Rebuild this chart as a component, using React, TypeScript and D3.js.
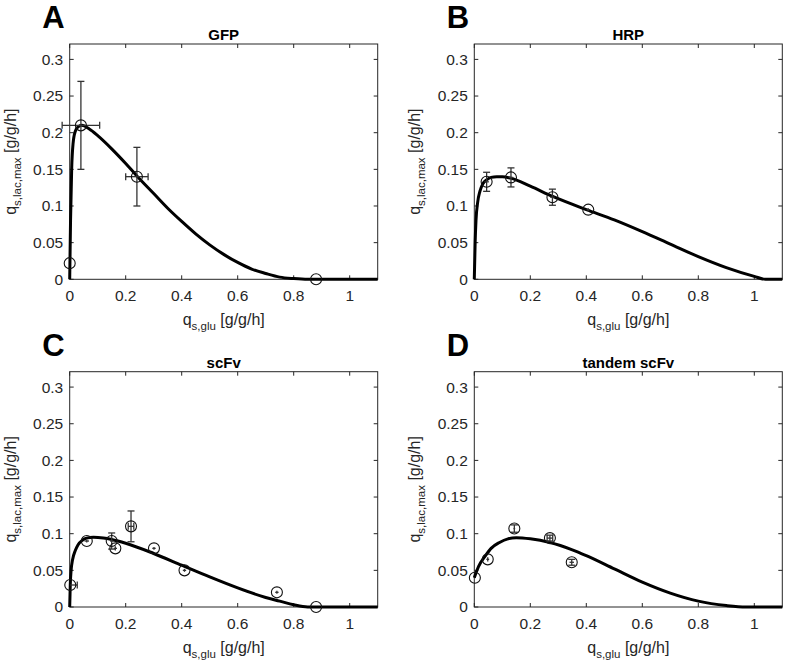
import React, { useEffect, useRef } from "react";
import * as d3 from "d3";

// axis ticks shared by all four panels
const xTicks = [0, 0.2, 0.4, 0.6, 0.8, 1];
const yTicks = [0, 0.05, 0.1, 0.15, 0.2, 0.25, 0.3];

// A: GFP
const gfpX = [0, 0.04, 0.24, 0.88];
const gfpY = [0.022, 0.21, 0.14, 0];
const gfpXErr = [0, 0.067, 0.04, 0];
const gfpYErr = [0, 0.06, 0.04, 0];
const gfpFitX = [0, 0.003, 0.007, 0.012, 0.02, 0.03, 0.043, 0.07, 0.1, 0.15, 0.2, 0.24, 0.3, 0.35, 0.4, 0.45, 0.5, 0.55, 0.6, 0.65, 0.7, 0.75, 0.8, 0.85, 0.9, 1.0, 1.1];
const gfpFitY = [0, 0.08, 0.15, 0.185, 0.202, 0.208, 0.21, 0.205, 0.196, 0.178, 0.158, 0.141, 0.117, 0.097, 0.079, 0.062, 0.047, 0.034, 0.023, 0.014, 0.008, 0.003, 0.001, 0, 0, 0, 0];

// B: HRP
const hrpX = [0.044, 0.131, 0.279, 0.407];
const hrpY = [0.133, 0.139, 0.112, 0.095];
const hrpXErr = [0.008, 0.008, 0.008, 0.006];
const hrpYErr = [0.013, 0.013, 0.011, 0.002];
const hrpFitX = [0, 0.003, 0.006, 0.012, 0.02, 0.03, 0.045, 0.06, 0.08, 0.1, 0.13, 0.2, 0.28, 0.4, 0.5, 0.6, 0.7, 0.8, 0.9, 1.0, 1.04, 1.1];
const hrpFitY = [0, 0.05, 0.08, 0.105, 0.12, 0.13, 0.136, 0.139, 0.14, 0.14, 0.138, 0.127, 0.113, 0.095, 0.081, 0.065, 0.048, 0.031, 0.016, 0.004, 0, 0];

// C: scFv
const scfvX = [0.002, 0.061, 0.15, 0.163, 0.219, 0.301, 0.41, 0.74, 0.88];
const scfvY = [0.03, 0.09, 0.09, 0.08, 0.11, 0.08, 0.05, 0.02, 0];
const scfvXErr = [0.025, 0.008, 0.006, 0.006, 0.01, 0.006, 0.006, 0.006, 0];
const scfvYErr = [0, 0.002, 0.011, 0.003, 0.021, 0.002, 0.002, 0.002, 0];
const scfvFitX = [0, 0.002, 0.005, 0.01, 0.02, 0.03, 0.045, 0.06, 0.085, 0.12, 0.15, 0.2, 0.3, 0.4, 0.5, 0.6, 0.7, 0.75, 0.8, 0.85, 1.1];
const scfvFitY = [0, 0.03, 0.05, 0.064, 0.077, 0.085, 0.091, 0.094, 0.095, 0.094, 0.092, 0.087, 0.073, 0.057, 0.041, 0.026, 0.013, 0.008, 0.003, 0, 0];

// D: tandem scFv
const tandX = [0.002, 0.048, 0.143, 0.27, 0.348];
const tandY = [0.04, 0.065, 0.107, 0.094, 0.061];
const tandXErr = [0, 0.005, 0.003, 0.01, 0.008];
const tandYErr = [0, 0.003, 0.005, 0.004, 0.004];
const tandFitX = [0, 0.015, 0.04, 0.06, 0.09, 0.12, 0.15, 0.2, 0.27, 0.35, 0.4, 0.5, 0.6, 0.7, 0.8, 0.9, 0.97, 1.1];
const tandFitY = [0.04, 0.055, 0.07, 0.08, 0.088, 0.093, 0.0945, 0.093, 0.088, 0.078, 0.07, 0.052, 0.034, 0.019, 0.008, 0.002, 0, 0];

const panels = [
  { letter: "A", title: "GFP", left: 69.7, top: 44, x: gfpX, y: gfpY, xe: gfpXErr, ye: gfpYErr, fx: gfpFitX, fy: gfpFitY },
  { letter: "B", title: "HRP", left: 474.3, top: 44, x: hrpX, y: hrpY, xe: hrpXErr, ye: hrpYErr, fx: hrpFitX, fy: hrpFitY },
  { letter: "C", title: "scFv", left: 69.7, top: 371.7, x: scfvX, y: scfvY, xe: scfvXErr, ye: scfvYErr, fx: scfvFitX, fy: scfvFitY },
  { letter: "D", title: "tandem scFv", left: 474.3, top: 371.7, x: tandX, y: tandY, xe: tandXErr, ye: tandYErr, fx: tandFitX, fy: tandFitY },
];

const W = 308;
const H = 235.3;
const FONT = "'Liberation Sans', Arial, Helvetica, sans-serif";
const AX = "#262626";

const App = () => {
  const svgRef = useRef<SVGSVGElement>(null);

  useEffect(() => {
    const svg = d3.select(svgRef.current);
    svg.selectAll("*").remove();

    const x = d3.scaleLinear().domain([0, 1.1]).range([0, W]);
    const y = d3.scaleLinear().domain([0, 0.321]).range([H, 0]);

    panels.forEach(p => {
      const g = svg.append("g").attr("transform", `translate(${p.left},${p.top})`);

      // panel letter
      g.append("text")
        .attr("x", -27.5).attr("y", -16)
        .style("font-family", FONT).style("font-weight", "bold").style("font-size", "31px")
        .attr("fill", "#000")
        .text(p.letter);

      // title
      g.append("text")
        .attr("x", W / 2).attr("y", -4)
        .attr("text-anchor", "middle")
        .style("font-family", FONT).style("font-weight", "bold").style("font-size", "15px")
        .attr("fill", "#000")
        .text(p.title);

      // box
      g.append("rect")
        .attr("width", W).attr("height", H)
        .attr("fill", "#fff").attr("stroke", AX).attr("stroke-width", 1);

      // ticks, inside on all four sides
      const tl = 4;
      xTicks.forEach(t => {
        g.append("line").attr("x1", x(t)).attr("x2", x(t)).attr("y1", H).attr("y2", H - tl).attr("stroke", AX);
        g.append("line").attr("x1", x(t)).attr("x2", x(t)).attr("y1", 0).attr("y2", tl).attr("stroke", AX);
        g.append("text")
          .attr("x", x(t)).attr("y", H + 22)
          .attr("text-anchor", "middle")
          .style("font-family", FONT).style("font-size", "15.5px")
          .attr("fill", AX)
          .text(String(t));
      });
      yTicks.forEach(t => {
        g.append("line").attr("x1", 0).attr("x2", tl).attr("y1", y(t)).attr("y2", y(t)).attr("stroke", AX);
        g.append("line").attr("x1", W).attr("x2", W - tl).attr("y1", y(t)).attr("y2", y(t)).attr("stroke", AX);
        g.append("text")
          .attr("x", -6.5).attr("y", y(t))
          .attr("dy", "0.35em")
          .attr("text-anchor", "end")
          .style("font-family", FONT).style("font-size", "15.5px")
          .attr("fill", AX)
          .text(String(t));
      });

      // x label
      const xl = g.append("text")
        .attr("x", W / 2).attr("y", H + 46)
        .attr("text-anchor", "middle")
        .style("font-family", FONT).style("font-size", "16px")
        .attr("fill", AX);
      xl.append("tspan").text("q");
      xl.append("tspan").attr("dy", 5).style("font-size", "11.5px").text("s,glu");
      xl.append("tspan").attr("dy", -5).text(" [g/g/h]");

      // y label
      const yl = g.append("text")
        .attr("transform", `translate(-54,${H / 2}) rotate(-90)`)
        .attr("text-anchor", "middle")
        .style("font-family", FONT).style("font-size", "16px")
        .attr("fill", AX);
      yl.append("tspan").text("q");
      yl.append("tspan").attr("dy", 5).style("font-size", "11.5px").text("s,lac,max");
      yl.append("tspan").attr("dy", -5).text(" [g/g/h]");

      // model curve
      const fit = p.fx.map((v, i) => [v, p.fy[i]] as [number, number]);
      const line = d3.line<[number, number]>()
        .x(d => x(d[0]))
        .y(d => y(d[1]))
        .curve(d3.curveMonotoneX);
      g.append("path")
        .datum(fit)
        .attr("d", line)
        .attr("fill", "none")
        .attr("stroke", "#000")
        .attr("stroke-width", 3)
        .attr("stroke-linejoin", "round");

      // error bars
      const cap = 3.5;
      const eb = g.append("g").attr("stroke", "#333").attr("stroke-width", 1.3).attr("fill", "none");
      p.x.forEach((xv, i) => {
        const cx = x(xv), cy = y(p.y[i]);
        const ye = p.ye[i], xe = p.xe[i];
        if (ye > 0) {
          const y1 = y(p.y[i] + ye), y2 = y(p.y[i] - ye);
          eb.append("line").attr("x1", cx).attr("x2", cx).attr("y1", y1).attr("y2", y2);
          if (y2 - y1 > 5) {
            eb.append("line").attr("x1", cx - cap).attr("x2", cx + cap).attr("y1", y1).attr("y2", y1);
            eb.append("line").attr("x1", cx - cap).attr("x2", cx + cap).attr("y1", y2).attr("y2", y2);
          }
        }
        if (xe > 0) {
          // a bar on a point sitting on the y axis is hidden behind it on the left
          const x1 = xv < 0.01 ? x(xv) : x(xv - xe), x2 = x(xv + xe);
          eb.append("line").attr("x1", x1).attr("x2", x2).attr("y1", cy).attr("y2", cy);
          if (x2 - x1 > 5) {
            if (xv >= 0.01) eb.append("line").attr("x1", x1).attr("x2", x1).attr("y1", cy - cap).attr("y2", cy + cap);
            eb.append("line").attr("x1", x2).attr("x2", x2).attr("y1", cy - cap).attr("y2", cy + cap);
          }
        }
      });

      // data markers
      g.selectAll(".pt")
        .data(p.x)
        .enter()
        .append("circle")
        .attr("class", "pt")
        .attr("cx", d => x(d))
        .attr("cy", (d, i) => y(p.y[i]))
        .attr("r", 5.5)
        .attr("fill", "none")
        .attr("stroke", "#111")
        .attr("stroke-width", 1.1);
    });
  }, []);

  return (
    <svg
      ref={svgRef}
      width={787}
      height={667}
      style={{ position: "absolute", left: 0, top: 0, background: "#fff" }}
    />
  );
};

export default App;
